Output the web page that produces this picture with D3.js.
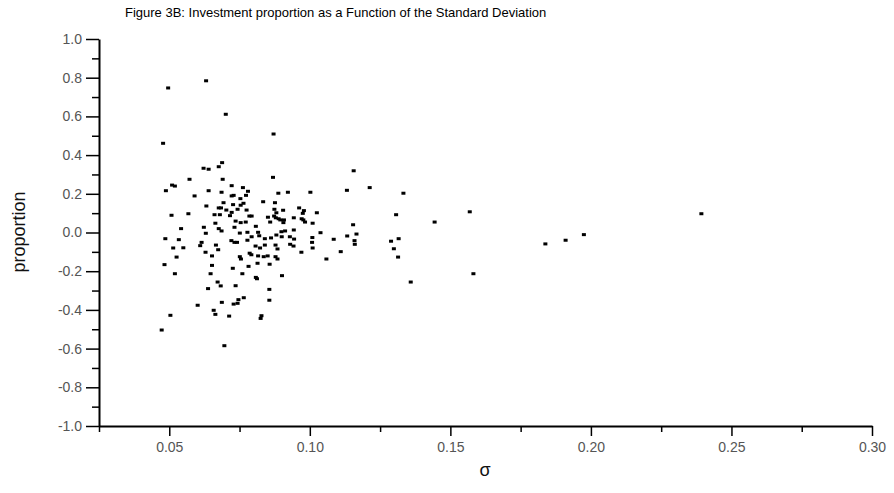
<!DOCTYPE html>
<html>
<head>
<meta charset="utf-8">
<script src="https://cdn.jsdelivr.net/npm/d3@7"></script>
<style>
  body { margin: 0; background: #fff; }
  text { font-family: Arial, "Liberation Sans", sans-serif; }
</style>
</head>
<body>
<svg id="chart" width="894" height="493"></svg>
<script>
// values (sigma, proportion pairs)
const sigma = [
  0.0631, 0.0496, 0.0701, 0.0478, 0.0688, 0.0676, 0.0622, 0.0640, 0.0572, 0.0690,
  0.0510, 0.0520, 0.0488, 0.0722, 0.0762, 0.0640, 0.0686, 0.0780, 0.0590, 0.0722,
  0.0729, 0.0753, 0.0773, 0.0632, 0.0676, 0.0684, 0.0693, 0.0727, 0.0754, 0.0764,
  0.0703, 0.0716, 0.0743, 0.0722, 0.0775, 0.0785, 0.0793, 0.0508, 0.0568, 0.0661,
  0.0680, 0.0736, 0.0754, 0.0772, 0.0664, 0.0542, 0.0623, 0.0676, 0.0686, 0.0732,
  0.0751, 0.0778, 0.0808, 0.0816, 0.0793, 0.0630, 0.0486, 0.0534, 0.0615, 0.0610,
  0.0666, 0.0674, 0.0721, 0.0732, 0.0741, 0.0778, 0.0807, 0.0514, 0.0550, 0.0629,
  0.0652, 0.0526, 0.0751, 0.0755, 0.0786, 0.0792, 0.0816, 0.0483, 0.0652, 0.0726,
  0.0782, 0.0814, 0.0520, 0.0647, 0.0760, 0.0808, 0.0812, 0.0672, 0.0683, 0.0736,
  0.0638, 0.0765, 0.0746, 0.0729, 0.0743, 0.0687, 0.0601, 0.0658, 0.0664, 0.0504,
  0.0713, 0.0825, 0.0473, 0.0696,
  0.0871, 0.1156, 0.0869, 0.0888, 0.0922, 0.1002, 0.1132, 0.1213, 0.0834, 0.0876,
  0.0874, 0.0881, 0.0905, 0.0962, 0.0979, 0.0975, 0.1025, 0.0851, 0.0873, 0.0879,
  0.0889, 0.0895, 0.0908, 0.0906, 0.0943, 0.0971, 0.0977, 0.0983, 0.1010, 0.0859,
  0.1154, 0.0899, 0.0912, 0.0943, 0.1038, 0.0820, 0.0840, 0.0862, 0.0881, 0.0900,
  0.0929, 0.0944, 0.1009, 0.1085, 0.1133, 0.1166, 0.1159, 0.1160, 0.0823, 0.0840,
  0.0878, 0.0885, 0.0930, 0.0942, 0.1008, 0.1010, 0.0836, 0.0850, 0.0878, 0.0885,
  0.0970, 0.1110, 0.1059, 0.0857, 0.0901, 0.0856, 0.0856, 0.0828,
  0.1333, 0.1307, 0.1569, 0.1444, 0.1316, 0.1289, 0.1299, 0.1314, 0.1582, 0.1359,
  0.2393, 0.1975, 0.1910, 0.1838
]
const proportion = [
  0.784, 0.747, 0.611, 0.461, 0.361, 0.340, 0.332, 0.327, 0.275, 0.275,
  0.245, 0.240, 0.216, 0.242, 0.232, 0.216, 0.208, 0.213, 0.189, 0.189,
  0.192, 0.175, 0.192, 0.137, 0.127, 0.127, 0.154, 0.144, 0.141, 0.151,
  0.116, 0.087, 0.120, 0.104, 0.116, 0.085, 0.085, 0.089, 0.097, 0.092,
  0.092, 0.059, 0.051, 0.054, 0.048, 0.020, 0.027, 0.020, 0.008, 0.027,
  -0.003, 0.001, 0.032, 0.001, -0.022, -0.004, -0.032, -0.037, -0.051, -0.068,
  -0.065, -0.089, -0.042, -0.051, -0.051, -0.040, -0.070, -0.080, -0.079, -0.102,
  -0.121, -0.127, -0.125, -0.137, -0.107, -0.115, -0.121, -0.166, -0.170, -0.185,
  -0.175, -0.159, -0.213, -0.213, -0.213, -0.232, -0.239, -0.256, -0.276, -0.275,
  -0.290, -0.337, -0.347, -0.370, -0.366, -0.361, -0.376, -0.402, -0.423, -0.428,
  -0.432, -0.444, -0.504, -0.585,
  0.509, 0.319, 0.285, 0.203, 0.208, 0.208, 0.218, 0.232, 0.159, 0.154,
  0.120, 0.102, 0.115, 0.127, 0.113, 0.099, 0.102, 0.079, 0.085, 0.076,
  0.071, 0.065, 0.065, 0.051, 0.076, 0.071, 0.065, 0.054, 0.048, 0.054,
  0.040, 0.004, 0.008, 0.013, -0.001, -0.017, -0.032, -0.028, -0.013, -0.022,
  -0.022, -0.034, -0.026, -0.035, -0.018, -0.008, -0.042, -0.061, -0.080, -0.065,
  -0.065, -0.085, -0.061, -0.070, -0.051, -0.080, -0.125, -0.121, -0.125, -0.137,
  -0.102, -0.099, -0.137, -0.164, -0.223, -0.294, -0.350, -0.430,
  0.203, 0.092, 0.107, 0.054, -0.032, -0.045, -0.084, -0.127, -0.213, -0.256,
  0.097, -0.011, -0.040, -0.059
]
const xMajor = [0.05, 0.10, 0.15, 0.20, 0.25, 0.30]
const xMinor = [0.025, 0.075, 0.125, 0.175, 0.225, 0.275]
const yMajor = [-1.0, -0.8, -0.6, -0.4, -0.2, 0.0, 0.2, 0.4, 0.6, 0.8, 1.0]
const yMinor = [-0.9, -0.7, -0.5, -0.3, -0.1, 0.1, 0.3, 0.5, 0.7, 0.9]

const points = sigma.map((s, i) => ({ s: s, p: proportion[i] }))

const svg = d3.select('#chart')

const x = d3.scaleLinear().domain([0.025, 0.30]).range([99, 872])
const y = d3.scaleLinear().domain([-1, 1]).range([426, 39])

const tickFont = '"Liberation Sans Narrow", "Arial Narrow", Arial, sans-serif'

// title
svg.append('text')
  .attr('x', 125)
  .attr('y', 17)
  .attr('font-size', 13)
  .attr('fill', '#000')
  .text('Figure 3B: Investment proportion as a Function of the Standard Deviation')

// x axis
const gx = svg.append('g').attr('transform', 'translate(0,426)')
gx.call(d3.axisBottom(x).tickValues(xMajor).tickFormat(d => d.toFixed(2)).tickSize(10).tickSizeOuter(0))
gx.append('g').call(d3.axisBottom(x).tickValues(xMinor).tickFormat('').tickSize(6))
  .select('.domain').remove()

// y axis
const gy = svg.append('g').attr('transform', 'translate(99,0)')
gy.call(d3.axisLeft(y).tickValues(yMajor).tickFormat(d => d.toFixed(1)).tickSize(13).tickSizeOuter(0))
gy.append('g').call(d3.axisLeft(y).tickValues(yMinor).tickFormat('').tickSize(7))
  .select('.domain').remove()

svg.selectAll('.domain').attr('stroke', '#000').attr('stroke-width', 2)
svg.selectAll('.tick line').attr('stroke', '#000').attr('stroke-width', 1.5)
gx.attr('font-family', tickFont).attr('font-size', 14)
gy.attr('font-family', tickFont).attr('font-size', 14)
gx.selectAll('.tick text')
  .attr('y', 16)
  .attr('font-size', 14)
  .attr('font-family', tickFont)
  .attr('fill', '#555')
gy.selectAll('.tick text')
  .attr('x', -17)
  .attr('font-size', 14)
  .attr('font-family', tickFont)
  .attr('fill', '#555')

// axis titles
svg.append('text')
  .attr('transform', 'translate(25,232) rotate(-90)')
  .attr('text-anchor', 'middle')
  .attr('font-size', 18)
  .attr('fill', '#111')
  .text('proportion')

svg.append('text')
  .attr('x', 485)
  .attr('y', 476)
  .attr('text-anchor', 'middle')
  .attr('font-size', 18)
  .attr('fill', '#111')
  .text('σ')

// points
svg.append('g')
  .selectAll('rect')
  .data(points)
  .enter()
  .append('rect')
  .attr('x', d => x(d.s) - 2)
  .attr('y', d => y(d.p) - 1.5)
  .attr('width', 4)
  .attr('height', 3)
  .attr('fill', '#000')
</script>
</body>
</html>
